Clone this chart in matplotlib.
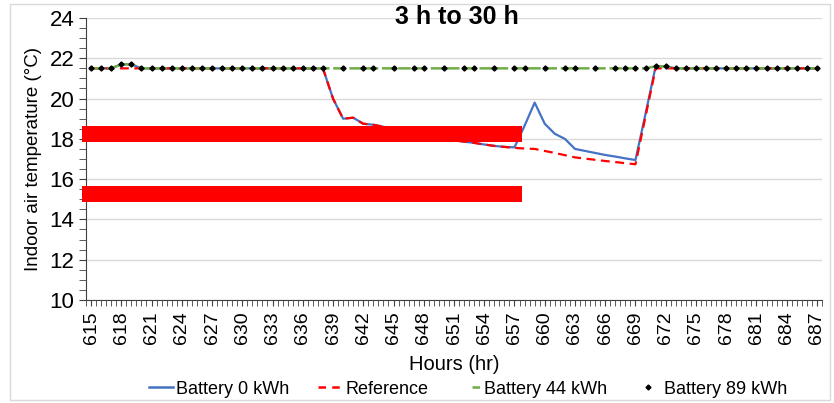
import matplotlib
matplotlib.use("Agg")
import matplotlib.pyplot as plt
from matplotlib.patches import Rectangle
from matplotlib.lines import Line2D
import numpy as np

FONT = ["Liberation Sans", "DejaVu Sans"]
plt.rcParams["font.family"] = FONT

hours = list(range(615, 688))

# indoor air temperature (degC), one value per hour
battery_0 = ([21.5] * 3 + [21.7, 21.7] + [21.5] * 19
             + [20.0, 19.0, 19.05, 18.75, 18.7, 18.6, 18.5, 18.4, 18.3, 18.2,
                18.1, 18.0, 17.93, 17.86, 17.8, 17.72, 17.65, 17.6, 17.58,
                18.65, 19.8, 18.75, 18.25, 18.0, 17.5, 17.4, 17.3, 17.2,
                17.12, 17.03, 16.95, 19.25, 21.6, 21.6]
             + [21.5] * 15)
reference = ([21.5] * 24
             + [20.0, 19.0, 19.05, 18.75, 18.7, 18.6, 18.5, 18.4, 18.3, 18.2,
                18.1, 18.0, 17.93, 17.86, 17.8, 17.72, 17.65, 17.6, 17.55,
                17.52, 17.5, 17.4, 17.3, 17.19, 17.08, 17.02, 16.96, 16.9,
                16.85, 16.79, 16.74, 19.12, 21.5]
             + [21.5] * 16)
battery_44 = [21.5] * 3 + [21.7, 21.7] + [21.5] * 51 + [21.6, 21.6] + [21.5] * 15
battery_89 = list(battery_44)
missing_89 = [639, 641, 644, 646, 649, 651, 654, 656, 659, 661, 664, 666]
for h in missing_89:
    battery_89[h - 615] = np.nan

# red blocks drawn over the chart (hour span, temperature bands)
cover_hours = [614.15, 657.7]
cover_bands = [(17.83, 18.64), (14.85, 15.66)]

xtick_labels = list(range(615, 688, 3))

fig = plt.figure(figsize=(8.34, 4.03), dpi=100)
ax = fig.add_axes([86 / 834, 1 - 300 / 403, (822 - 86) / 834, (300 - 18) / 403])

ax.plot(hours, battery_0, color="#4472C4", lw=1.6, zorder=3)
ax.plot(hours, reference, color="#FF0000", lw=1.6, ls=(0, (4, 2.5)), zorder=4)
ax.plot(hours, battery_44, color="#70AD47", lw=1.8, ls=(0, (5, 1.5)), zorder=5)
ax.plot(hours, battery_89, ls="none", marker="D", ms=2.6, color="black", zorder=6)

for lo, hi in cover_bands:
    ax.fill_between(cover_hours, lo, hi, color="#FF0000", lw=0, zorder=7, clip_on=False)

ax.set_xlim(614.5, 687.5)
ax.set_ylim(10, 24)
ax.set_yticks(range(10, 25, 2))
ax.set_yticks(np.arange(10, 24.01, 0.5), minor=True)
ax.set_xticks(xtick_labels)
ax.set_xticks(np.arange(614.5, 688, 0.5), minor=True)
ax.set_xticklabels([str(v) for v in xtick_labels], rotation=90, fontsize=14)
ax.tick_params(axis="y", which="both", direction="out", length=5, labelsize=16, color="#404040")
ax.tick_params(axis="x", which="major", direction="out", length=4, color="#404040", pad=4)
ax.tick_params(axis="x", which="minor", direction="out", length=4, color="#404040")

ax.grid(axis="y", which="major", color="#D9D9D9", lw=1)
ax.set_axisbelow(True)
for s in ["top", "right"]:
    ax.spines[s].set_visible(False)
ax.spines["left"].set_color("#404040")
ax.spines["bottom"].set_color("#404040")

ax.set_ylabel("Indoor air temperature (°C)", fontsize=13.5, labelpad=5)
ax.set_xlabel("Hours (hr)", fontsize=14.5, labelpad=8)

fig.text(457 / 834, 1 - 17 / 403, "3 h to 30 h", ha="center", va="center",
         fontsize=18, fontweight="bold")

handles = [
    Line2D([], [], color="#4472C4", lw=1.8),
    Line2D([], [], color="#FF0000", lw=1.8, ls=(0, (3, 2.5))),
    Line2D([], [], color="#70AD47", lw=1.8, ls=(0, (0.01, 6, 3, 20))),
    Line2D([], [], ls="none", marker="D", ms=2.5, color="black"),
]
labels = ["Battery 0 kWh", "Reference", "Battery 44 kWh", "Battery 89 kWh"]
fig.legend(handles, labels, loc="center", bbox_to_anchor=(468 / 834, 1 - 389 / 403),
           ncol=4, frameon=False, fontsize=13, handlelength=1.3, handletextpad=0.2,
           columnspacing=1.6, borderaxespad=0)

fig.patches.append(Rectangle((10 / 834, 3 / 403), 820 / 834, 396 / 403,
                             transform=fig.transFigure, fill=False,
                             edgecolor="#D9D9D9", lw=1))

fig.savefig("out.png", dpi=100)
